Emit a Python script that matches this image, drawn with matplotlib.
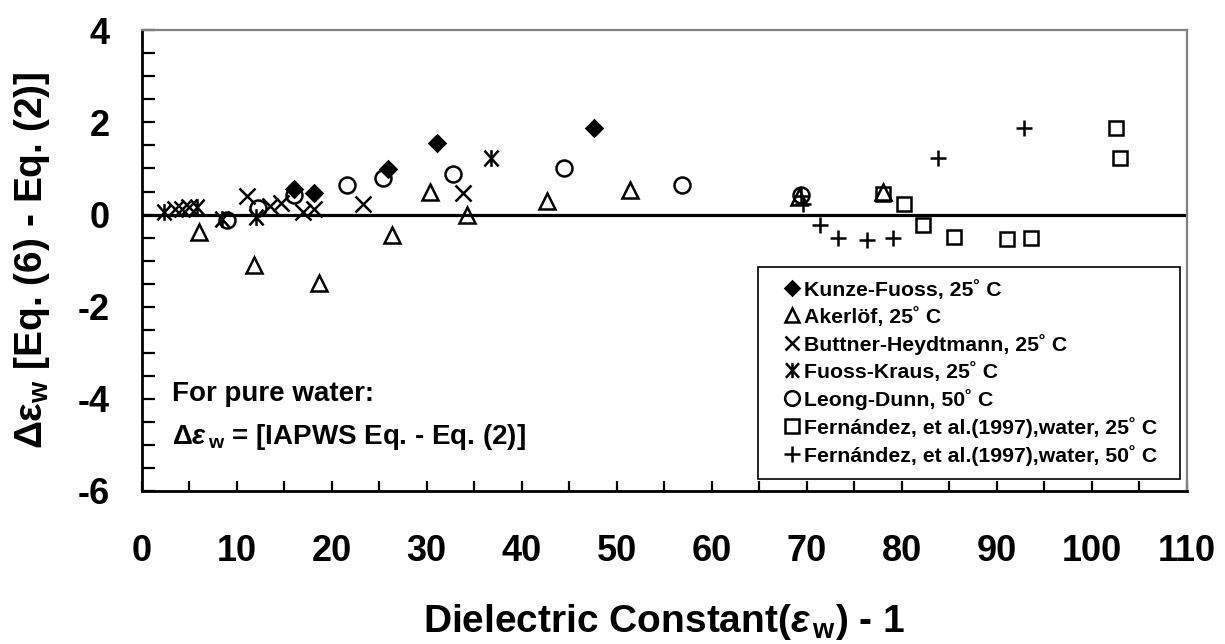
import matplotlib
matplotlib.use("Agg")
import matplotlib.pyplot as plt
from matplotlib.ticker import MultipleLocator
from matplotlib.path import Path

plt.rcParams['font.family'] = ['Liberation Sans', 'DejaVu Sans']
plt.rcParams['font.weight'] = 'bold'
plt.rcParams['axes.unicode_minus'] = False
plt.rcParams['mathtext.fontset'] = 'custom'
plt.rcParams['mathtext.rm'] = 'Liberation Sans:bold'
plt.rcParams['mathtext.bf'] = 'Liberation Sans:bold'
plt.rcParams['mathtext.it'] = 'Liberation Sans:italic:bold'

# ---- data ----
kf_x = [16.0, 18.1, 25.96, 31.05, 47.64]
kf_y = [0.55, 0.47, 0.98, 1.55, 1.87]

ak_x = [6.06, 11.85, 18.7, 26.3, 30.3, 34.27, 42.7, 51.4, 69.2, 78.0]
ak_y = [-0.38, -1.10, -1.48, -0.45, 0.49, -0.01, 0.29, 0.53, 0.38, 0.50]

bh_x = [3.5, 4.2, 5.0, 11.05, 13.5, 14.7, 17.0, 18.1, 23.3, 33.8]
bh_y = [0.12, 0.13, 0.16, 0.41, 0.18, 0.24, 0.05, 0.11, 0.23, 0.47]

fk_x = [2.3, 5.85, 8.4, 12.0, 36.8]
fk_y = [0.05, 0.17, -0.10, -0.05, 1.22]

ld_x = [9.0, 12.2, 16.0, 21.6, 25.4, 32.8, 44.4, 56.9, 69.4]
ld_y = [-0.12, 0.14, 0.42, 0.64, 0.79, 0.89, 1.02, 0.64, 0.42]

f25_x = [78.0, 80.2, 82.2, 85.5, 91.1, 93.6, 102.6, 103.0]
f25_y = [0.44, 0.22, -0.23, -0.48, -0.54, -0.50, 1.88, 1.23]

f50_x = [69.4, 69.6, 71.4, 73.3, 76.3, 79.1, 83.8, 92.9]
f50_y = [0.40, 0.23, -0.23, -0.50, -0.55, -0.50, 1.23, 1.87]

labels = ["Kunze-Fuoss, 25˚ C",
          "Akerlöf, 25˚ C",
          "Buttner-Heydtmann, 25˚ C",
          "Fuoss-Kraus, 25˚ C",
          "Leong-Dunn, 50˚ C",
          "Fernández, et al.(1997),water, 25˚ C",
          "Fernández, et al.(1997),water, 50˚ C"]

x_ticks = [0, 10, 20, 30, 40, 50, 60, 70, 80, 90, 100, 110]
y_ticks = [-6, -4, -2, 0, 2, 4]

# asterisk marker: vertical bar plus an X
ast = Path([(0, -1), (0, 1), (-0.85, -0.95), (0.85, 0.95),
            (-0.85, 0.95), (0.85, -0.95)],
           [Path.MOVETO, Path.LINETO, Path.MOVETO, Path.LINETO,
            Path.MOVETO, Path.LINETO])

# ---- figure ----
fig = plt.figure(figsize=(12.25, 6.44), dpi=100)
ax = fig.add_axes([0.1157, 0.2376, 0.9687 - 0.1157, 0.9530 - 0.2376])

mew = 1.8
common = dict(linestyle='none', color='black', markeredgewidth=mew, zorder=3)
ax.plot(kf_x, kf_y, marker='D', markersize=8, markerfacecolor='black',
        label=labels[0], **common)
ax.plot(ak_x, ak_y, marker='^', markersize=11.5, markerfacecolor='none',
        label=labels[1], **common)
ax.plot(bh_x, bh_y, marker='x', markersize=11, label=labels[2], **common)
ax.plot(fk_x, fk_y, marker=ast, markersize=12, label=labels[3], **common)
ax.plot(ld_x, ld_y, marker='o', markersize=11.5, markerfacecolor='none',
        label=labels[4], **common)
ax.plot(f25_x, f25_y, marker='s', markersize=10.5, markerfacecolor='none',
        label=labels[5], **common)
ax.plot(f50_x, f50_y, marker='+', markersize=12, label=labels[6], **common)

ax.axhline(0, color='black', lw=2.3, zorder=2)

ax.set_xlim(0, 110)
ax.set_ylim(-6, 4)
ax.set_xticks(x_ticks)
ax.set_yticks(y_ticks)
ax.xaxis.set_minor_locator(MultipleLocator(5))
ax.yaxis.set_minor_locator(MultipleLocator(0.5))
ax.tick_params(axis='both', which='both', direction='in', width=1.6,
               labelsize=26, color='black')
ax.tick_params(axis='x', which='both', length=7.5, pad=31, top=False)
ax.tick_params(axis='y', which='both', length=9, pad=23, right=False)
for lab in ax.get_xticklabels() + ax.get_yticklabels():
    lab.set_fontweight('bold')

for side in ['left', 'bottom']:
    ax.spines[side].set_color('black')
    ax.spines[side].set_linewidth(2.0)
for side in ['top', 'right']:
    ax.spines[side].set_color('#808080')
    ax.spines[side].set_linewidth(1.6)

ax.set_xlabel('Dielectric Constant($\\varepsilon_{\\,\\rm w}$) - 1',
              fontsize=28, fontweight='bold')
ax.xaxis.set_label_coords(0.5, -0.284)
ax.xaxis.label.set_va('center')

ax.set_ylabel('Δε$_{\\rm w}$ [Eq. (6) - Eq. (2)]', fontsize=28,
              fontweight='bold')
ax.yaxis.set_label_coords(-0.105, 0.5)
ax.yaxis.label.set_va('center')

ax.text(3.2, -3.9, 'For pure water:', fontsize=20, fontweight='bold',
        va='center', ha='left')
ax.text(3.2, -4.83, 'Δ$\\varepsilon_{\\,\\rm w}$ = [IAPWS Eq. - Eq. (2)]',
        fontsize=20, fontweight='bold', va='center', ha='left')

fs_leg = 15.3
leg = ax.legend(loc='upper left', bbox_to_anchor=(0.590, 0.486, 0.4036, 0.0),
                mode='expand', frameon=True, fancybox=False,
                edgecolor='black', framealpha=1, borderaxespad=0,
                borderpad=0.6, labelspacing=0.33, handlelength=2.0,
                handletextpad=-0.44, numpoints=1,
                prop={'weight': 'bold', 'size': fs_leg})
leg.get_frame().set_linewidth(1.2)
for h in leg.legend_handles:
    h.set_markersize(h.get_markersize() * 0.92)

fig.savefig('out.png', dpi=100)
